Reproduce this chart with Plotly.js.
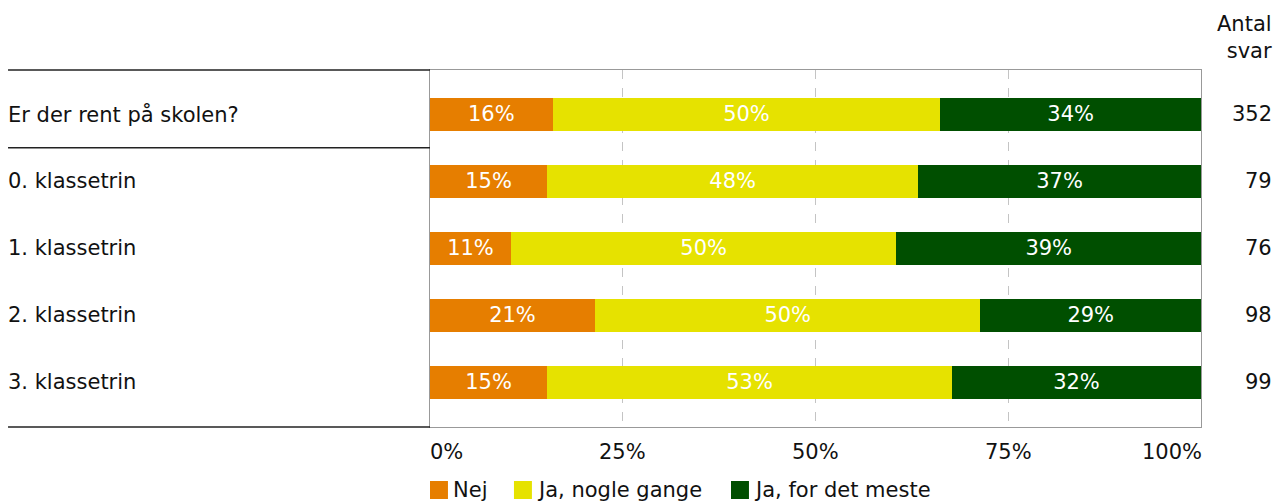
<!DOCTYPE html>
<html>
<head>
<meta charset="utf-8">
<script src="https://cdn.plot.ly/plotly-3.0.1.min.js"></script>
<style>html,body{margin:0;padding:0;background:#fff;}#chart{width:1276px;height:503px;}</style>
</head>
<body>
<div id="chart"></div>
<script>
const categories = ['Er der rent på skolen?', '0. klassetrin', '1. klassetrin', '2. klassetrin', '3. klassetrin'];
const seriesNames = ['Nej', 'Ja, nogle gange', 'Ja, for det meste'];
const nejValues = [15.9, 15.2, 10.5, 21.4, 15.2];
const nogleValues = [50.3, 48.1, 50.0, 50.0, 52.5];
const mesteValues = [33.8, 36.7, 39.5, 28.6, 32.3];
const nejLabels = ['16%', '15%', '11%', '21%', '15%'];
const nogleLabels = ['50%', '48%', '50%', '50%', '53%'];
const mesteLabels = ['34%', '37%', '39%', '29%', '32%'];
const answerCounts = ['352', '79', '76', '98', '99'];
const countHeader = 'Antal<br>svar';
const tickValues = [0, 25, 50, 75, 100];
const tickLabels = ['0%', '25%', '50%', '75%', '100%'];

const colors = ['#E67E00', '#E6E200', '#004F00'];
const FONT = 'DejaVu Sans, Verdana, sans-serif';
const FS = 21;

const values = [nejValues, nogleValues, mesteValues];
const labels = [nejLabels, nogleLabels, mesteLabels];

const traces = seriesNames.map((name, i) => ({
  type: 'bar',
  orientation: 'h',
  name: name,
  x: values[i],
  y: categories,
  text: labels[i],
  textposition: 'inside',
  insidetextanchor: 'middle',
  constraintext: 'none',
  textfont: {family: FONT, size: FS, color: '#ffffff'},
  marker: {color: colors[i], line: {width: 0}},
  hoverinfo: 'none'
}));

const annotations = [];
categories.forEach((c, i) => {
  annotations.push({xref: 'paper', yref: 'y', x: -0.5473, y: c, xanchor: 'left', yanchor: 'middle', xshift: -2,
    text: c, showarrow: false, font: {family: FONT, size: FS, color: '#111'}});
  annotations.push({xref: 'paper', yref: 'y', x: 1.0908, y: c, xanchor: 'right', yanchor: 'middle', xshift: 3,
    text: answerCounts[i], showarrow: false, font: {family: FONT, size: FS, color: '#111'}});
});
annotations.push({xref: 'paper', yref: 'paper', x: 1.0908, y: 1.092, xanchor: 'right', yanchor: 'middle', xshift: 3,
  align: 'right', text: countHeader, showarrow: false, font: {family: FONT, size: FS, color: '#111'}});
tickValues.forEach((v, i) => {
  const first = i === 0, last = i === tickValues.length - 1;
  annotations.push({xref: 'x', yref: 'paper', x: v, y: -0.07,
    xanchor: first ? 'left' : (last ? 'right' : 'center'), yanchor: 'middle',
    xshift: first ? -2 : (last ? 3 : 0),
    text: tickLabels[i], showarrow: false, font: {family: FONT, size: FS, color: '#111'}});
});

const shapes = [
  {type: 'line', xref: 'paper', yref: 'paper', x0: -0.5473, x1: 0, y0: 1, y1: 1, line: {color: '#222', width: 1.5}},
  {type: 'line', xref: 'paper', yref: 'y', x0: -0.5473, x1: 0, y0: 0.5, y1: 0.5, line: {color: '#222', width: 1.5}},
  {type: 'line', xref: 'paper', yref: 'paper', x0: -0.5473, x1: 0, y0: 0, y1: 0, line: {color: '#222', width: 1.5}}
];

const legX = [0, 0.1089, 0.3904];
seriesNames.forEach((n, i) => {
  shapes.push({type: 'rect', xref: 'paper', yref: 'paper', x0: legX[i], x1: legX[i] + 0.0233,
    y0: -0.2017, y1: -0.1513, fillcolor: colors[i], line: {width: 0}});
  annotations.push({xref: 'paper', yref: 'paper', x: legX[i] + 0.0298, y: -0.1765, xanchor: 'left', yanchor: 'middle', xshift: -2,
    text: n, showarrow: false, font: {family: FONT, size: FS, color: '#111'}});
});

const layout = {
  width: 1276, height: 503,
  margin: {l: 430, r: 75, t: 70, b: 76, pad: 0},
  paper_bgcolor: '#fff', plot_bgcolor: '#fff',
  barmode: 'stack',
  bargap: 0.51,
  showlegend: false,
  font: {family: FONT, size: FS, color: '#111'},
  xaxis: {range: [0, 100], fixedrange: true, tickvals: [25, 50, 75], showticklabels: false,
    showgrid: true, gridcolor: '#c4c4c4', griddash: 'dash', gridwidth: 1, zeroline: false,
    showline: true, mirror: true, linecolor: '#999', linewidth: 1, ticks: ''},
  yaxis: {type: 'category', categoryorder: 'array', categoryarray: categories, range: [4.67, -0.66],
    fixedrange: true, showticklabels: false, showgrid: false, zeroline: false,
    showline: true, mirror: true, linecolor: '#999', linewidth: 1, ticks: ''},
  annotations: annotations,
  shapes: shapes
};

Plotly.newPlot('chart', traces, layout, {staticPlot: true, displayModeBar: false});
</script>
</body>
</html>
